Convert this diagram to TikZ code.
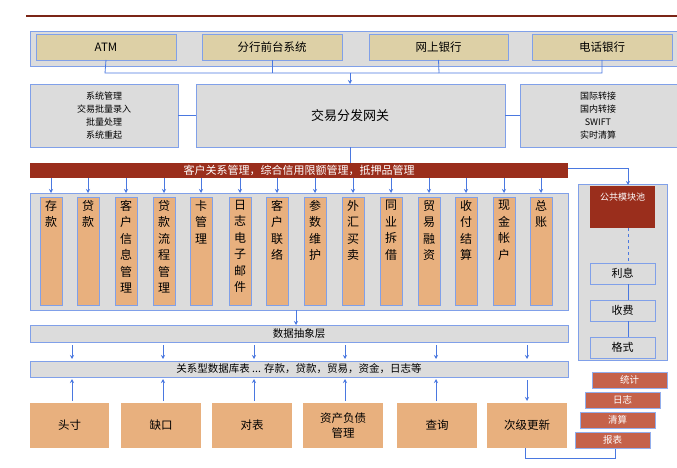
\documentclass[tikz,border=0pt]{standalone}
\usepackage{fontspec}
\setmainfont{Noto Sans CJK SC}
\usetikzlibrary{arrows.meta}
\definecolor{gbox}{HTML}{DCDCDC}
\definecolor{tan}{HTML}{DDD0A6}
\definecolor{ora}{HTML}{E8B07E}
\definecolor{dred}{HTML}{9A2E1C}
\definecolor{rred}{HTML}{C5624A}
\definecolor{bl}{HTML}{4A78E0}
\tikzset{
 gb/.style={draw=bl!70,fill=gbox,line width=0.6pt,inner sep=0pt},
 tb/.style={draw=bl!70,fill=tan,line width=0.6pt},
 ob/.style={draw=bl!70,fill=ora,line width=0.6pt},
 rb/.style={draw=bl!60,fill=rred,line width=0.6pt},
 ln/.style={draw=bl,line width=0.8pt},
 ar/.style={draw=bl,line width=0.8pt,-{Stealth[length=4pt,width=4pt]}},
 txt/.style={font=\fontsize{10.5}{12}\selectfont,text=black},
}
\begin{document}
\begin{tikzpicture}[x=1pt,y=-1pt]
\useasboundingbox (0,0) rectangle (677,468);
\fill[white] (0,0) rectangle (677,468);
\draw[dred!80!black,line width=1.2pt] (26,16) -- (677,16);
% top channels
\draw[gb] (30,31) rectangle (677,66);
\foreach \a/\b/\t/\n in {36/176/ATM/c1,202/342/分行前台系统/c2,369/508/网上银行/c3,532/672/电话银行/c4}{
 \draw[tb] (\a,34) rectangle (\b,60);
 \node[txt,font=\fontsize{11.5}{13}\selectfont] (\n) at ({(\a+\b)/2},47) {\t};
 \coordinate (\n b) at ({(\a+\b)/2},60);
}
\draw[ln] (c1b) -- (105,73) -- (602,73) -- (c4b);
\draw[ln] (c2b) -- (272,73); \draw[ln] (c3b) -- (439,73);
\coordinate (j) at (350,73);
% gateway row
\draw[gb] (30,84) rectangle (178,147);
\node[txt,align=center,font=\fontsize{9}{13}\selectfont] (lb) at (104,115.5) {系统管理\\交易批量录入\\批量处理\\系统重起};
\draw[gb] (196,84) rectangle (505,147);
\node[txt,font=\fontsize{13}{15}\selectfont] (gw) at (350,115.5) {交易分发网关};
\draw[gb] (520,84) rectangle (677,147);
\node[txt,align=center,font=\fontsize{9}{13}\selectfont] (rbx) at (598,115.5) {国际转接\\国内转接\\SWIFT\\实时清算};
\coordinate (gwt) at (350,84);
\draw[ar] (j) -- (gwt);
\draw[ln] (178,115) -- (196,115); \draw[ln] (505,115) -- (520,115);
% red bar
\fill[dred] (30,163) rectangle (568,178);
\node[txt,text=white,font=\fontsize{11}{12}\selectfont] (bar) at (299,170.5) {客户关系管理，综合信用限额管理，抵押品管理};
\draw[ln] (350,147) -- (350,163);
% pool
\draw[gb] (578,184) rectangle (667,360);
\draw[ar] (568,168) -- (628,168) -- (628,185);
\fill[dred] (590,186) rectangle (655,228);
\node[txt,text=white,font=\fontsize{9}{10}\selectfont] (pool) at (622.5,197) {公共模块池};
\draw[ln,dashed] (628,228) -- (628,263);
\foreach \y/\t/\n in {263/利息/p1,300/收费/p2,337/格式/p3}{
 \draw[gb] (590,\y) rectangle (655,\y+21);
 \node[txt,font=\fontsize{11}{12}\selectfont] (\n) at (622.5,\y+10.5) {\t};
}
\draw[ln,line width=0.4pt] (628,284) -- (628,300); \draw[ln,line width=0.4pt] (628,321) -- (628,337);
% modules
\draw[gb] (30,193) rectangle (568,310);
\foreach \x/\t [count=\i] in {40/存\\款,77/贷\\款,115/客\\户\\信\\息\\管\\理,153/贷\\款\\流\\程\\管\\理,190/卡\\管\\理,229/日\\志\\电\\子\\邮\\件,266/客\\户\\联\\络,304/参\\数\\维\\护,342/外\\汇\\买\\卖,380/同\\业\\拆\\借,418/贸\\易\\融\\资,455/收\\付\\结\\算,493/现\\金\\帐\\户,530/总\\账}{
 \draw[ob] (\x,197) rectangle (\x+22,305);
 \node[txt,anchor=north,align=center,font=\fontsize{12}{16.5}\selectfont,inner sep=1pt] (m\i) at (\x+11,199) {\t};
 \draw[ar] (\x+11,178) -- (\x+11,193);
}
% abstraction
\draw[gb] (30,325) rectangle (568,342);
\node[txt] (abs) at (299,333.5) {数据抽象层};
\draw[ar] (296,310) -- (296,325);
\draw[gb] (30,361) rectangle (568,377);
\node[txt] (rel) at (299,369) {关系型数据库表 ... 存款，贷款，贸易，资金，日志等};
\foreach \x in {72,163,254,345,436,527}{\draw[ar] (\x,345) -- (\x,359);}
% bottom
\foreach \a/\b/\t/\n in {30/109/头寸/b1,121/201/缺口/b2,212/292/对表/b3,303/383/资产负债\\管理/b4,397/477/查询/b5,487/567/次级更新/b6}{
 \fill[ora] (\a,403) rectangle (\b,448);
 \node[txt,align=center,font=\fontsize{11.5}{15}\selectfont] (\n) at ({(\a+\b)/2},425.5) {\t};
}
\foreach \x in {72,163,254,345,436}{\draw[ar] (\x,401) -- (\x,379);}
\draw[ar] (527,380) -- (527,401);
\draw[ln] (525,448) -- (525,458) -- (615,458) -- (615,449);
% small red boxes
\foreach \a/\y/\t/\n in {592/372/统计/s1,585/392/日志/s2,580/412/清算/s3,575/432/报表/s4}{
 \draw[rb] (\a,\y) rectangle (\a+75,\y+16);
 \node[txt,text=white,font=\fontsize{9.5}{10}\selectfont] (\n) at (\a+37.5,\y+8) {\t};
}
\end{tikzpicture}
\end{document}
